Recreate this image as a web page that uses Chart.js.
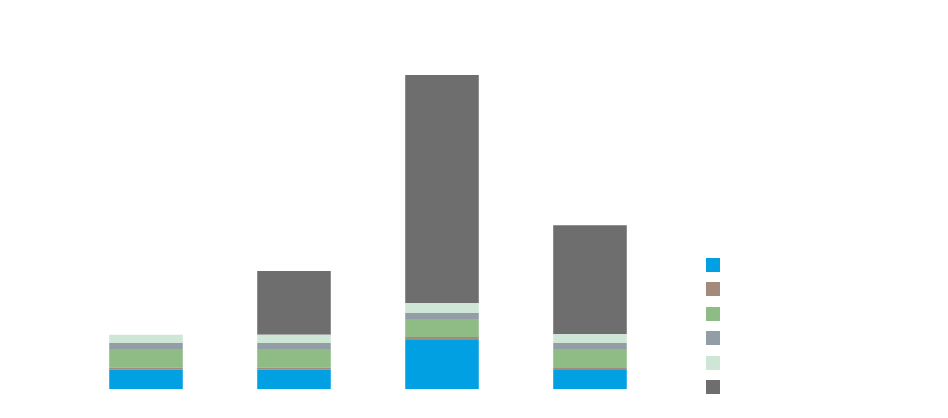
<!DOCTYPE html>
<html>
<head>
<meta charset="utf-8">
<script src="https://cdn.jsdelivr.net/npm/chart.js@4"></script>
<style>
  html, body { margin: 0; padding: 0; background: #fff; }
  #wrap { position: relative; width: 948px; height: 418px; }
  #legend { position: absolute; left: 706px; top: 258px; }
  .item { width: 13.6px; height: 13.6px; margin-bottom: 10.9px; }
</style>
</head>
<body>
<div id="wrap">
  <canvas id="stackChart" width="948" height="418"></canvas>
  <div id="legend"></div>
</div>
<script>
// Данные графика (снизу вверх по стеку)
const categories = ['1', '2', '3', '4'];
const seriesBlue  = [19.5, 19.5, 50.0, 19.3];
const seriesBrown = [2.0, 2.0, 2.3, 2.0];
const seriesGreen = [18.7, 18.7, 18.0, 19.0];
const seriesGray  = [6.0, 6.0, 6.0, 6.0];
const seriesLight = [8.3, 8.3, 10.0, 8.7];
const seriesDark  = [0, 63.7, 228.0, 109.0];

const colors = ['#00A0E3', '#A48A7A', '#8EBC84', '#929DA6', '#CFE6D6', '#6E6E6E'];
const allSeries = [seriesBlue, seriesBrown, seriesGreen, seriesGray, seriesLight, seriesDark];

const datasets = allSeries.map((values, i) => ({
    label: '',
    data: values,
    backgroundColor: colors[i],
    borderWidth: 0,
    barPercentage: 0.497,
    categoryPercentage: 1
}));

const ctx = document.getElementById('stackChart').getContext('2d');
const stackChart = new Chart(ctx, {
    type: 'bar',
    data: { labels: categories, datasets: datasets },
    options: {
        responsive: false,
        animation: false,
        layout: { padding: { left: 72, right: 284, top: 19.3, bottom: 28.7 } },
        plugins: { legend: { display: false }, tooltip: { enabled: false } },
        scales: {
            x: { stacked: true, display: false },
            y: { stacked: true, display: false, min: 0, max: 370 }
        }
    }
});

// Легенда без подписей, цвета берём из наборов данных
const legend = document.getElementById('legend');
stackChart.data.datasets.forEach(ds => {
    const box = document.createElement('div');
    box.className = 'item';
    box.style.background = ds.backgroundColor;
    legend.appendChild(box);
});
</script>
</body>
</html>
